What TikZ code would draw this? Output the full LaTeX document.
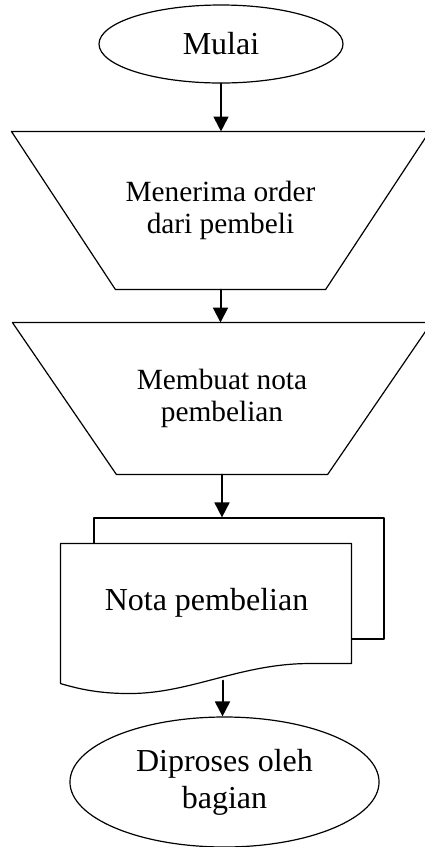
\documentclass[tikz,border=0pt]{standalone}
\usepackage{fontspec}
\setmainfont{Liberation Serif}
\usetikzlibrary{shapes.geometric,arrows.meta,calc}

\begin{document}
\begin{tikzpicture}[x=0.375pt, y=-0.375pt, line cap=round, line join=round,
  garis/.style={line width=0.45pt},
  panah/.style={line width=0.75pt, -{Triangle[length=5.6pt,width=5.6pt]}},
  terminal/.style={ellipse, draw, line width=0.45pt, inner sep=0pt, align=center,
    font=\fontsize{12}{13.8}\selectfont},
  manual/.style={rectangle, inner sep=0pt, align=center,
    font=\fontsize{11}{12.2}\selectfont},
  dokumen/.style={rectangle, inner sep=0pt, align=center,
    font=\fontsize{12}{13.8}\selectfont}]

% 画布大小与原图一致
\useasboundingbox (0,0) rectangle (425,847);

% 开始
\node[terminal, minimum width=91.5pt, minimum height=29.25pt] (mulai) at (221,44) {Mulai};

% 两个手工操作(倒梯形,边框另画)
\node[manual, minimum width=156.4pt, minimum height=58.9pt]
  (terima) at (220.5,210.5) {Menerima order\\dari pembeli};
\draw[garis] (terima.north west) -- (terima.north east)
  -- ($(terima.south east)+(-104,0)$) -- ($(terima.south west)+(104,0)$) -- cycle;
\node[manual, minimum width=156.8pt, minimum height=56.6pt]
  (buat) at (222,398.5) {Membuat nota\\pembelian};
\draw[garis] (buat.north west) -- (buat.north east)
  -- ($(buat.south east)+(-104,0)$) -- ($(buat.south west)+(104,0)$) -- cycle;

% 文档(后面一张)
\node[dokumen, draw, line width=0.45pt, minimum width=108.75pt, minimum height=45.4pt]
  (salinan) at (239,578.5) {};
% 文档(前面一张),白色填充盖住后面一张
\node[dokumen, fill=white, minimum width=109.1pt, minimum height=45pt]
  (nota) at (206.5,603) {Nota pembelian};
% 前面一张的边框和波浪形底边
\begin{scope}[shift={(nota.south west)}]
  \draw[garis] (291,0) -- (291,-120) -- (0,-120) -- (0,20)
    .. controls (20,26) and (40,30) .. (69,30)
    .. controls (130,30) and (180,0) .. (249,0) -- cycle;
  \coordinate (gelombang) at (162,17);
\end{scope}

% 结束
\node[terminal, minimum width=115.9pt, minimum height=48.75pt]
  (diproses) at (224.5,782) {Diproses oleh\\bagian};

% 箭头
\draw[panah] (mulai.south) -- (mulai.south |- terima.north);
\draw[panah] (terima.south) -- (terima.south |- buat.north);
\draw[panah] (buat.south) -- (buat.south |- salinan.north);
\draw[panah] (gelombang) -- (gelombang |- diproses.north);

\end{tikzpicture}
\end{document}
